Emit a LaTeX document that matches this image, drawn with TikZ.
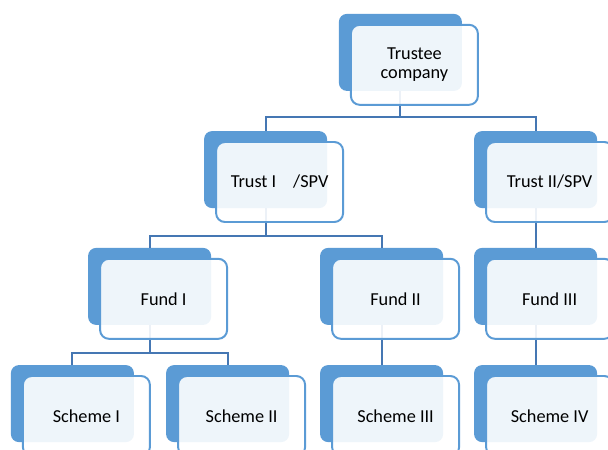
\documentclass[tikz,border=0pt]{standalone}
\usepackage{fontspec}
\setmainfont{Carlito}
\usetikzlibrary{positioning}

\definecolor{boxblue}{HTML}{5B9BD5}
\definecolor{linkblue}{HTML}{4577B3}

\begin{document}
\begin{tikzpicture}[
    node font=\fontsize{13}{13.5}\selectfont,
    back box/.style={rectangle, rounded corners=0.2cm, fill=boxblue, inner sep=0pt,
        minimum width=3.075cm, minimum height=1.925cm},
    front box/.style={rectangle, rounded corners=0.22cm, draw=boxblue, line width=1.4pt,
        fill=white, fill opacity=0.9, text opacity=1, text=black, align=center,
        inner sep=0pt, minimum width=3.175cm, minimum height=2cm,
        xshift=0.35cm, yshift=-0.31cm},
    link/.style={draw=linkblue, line width=1.5pt},
]

\clip (0,0) rectangle (15.2,-11.25);
\useasboundingbox (0,0) rectangle (15.2,-11.25);

% === Back panels ===
\node[back box] (trustee) at (10.01,-1.31) {};
\node[back box] (trust1)  at (6.64,-4.24) {};
\node[back box] (trust2)  at (13.39,-4.24) {};
\node[back box] (fund1)   at (3.74,-7.16) {};
\node[back box] (fund2)   at (9.54,-7.16) {};
\node[back box] (fund3)   at (13.39,-7.16) {};
\node[back box] (scheme1) at (1.81,-10.09) {};
\node[back box] (scheme2) at (5.69,-10.09) {};
\node[back box] (scheme3) at (9.54,-10.09) {};
\node[back box] (scheme4) at (13.39,-10.09) {};

% === Links ===
\draw[link] (trustee.south) -- ++(0,-0.65) -| (trust1.north);
\draw[link] (trustee.south) -- ++(0,-0.65) -| (trust2.north);
\draw[link] (trust1.south) -- ++(0,-0.7) -| (fund1.north);
\draw[link] (trust1.south) -- ++(0,-0.7) -| (fund2.north);
\draw[link] (trust2.south) -- (fund3.north);
\draw[link] (fund1.south) -- ++(0,-0.7) -| (scheme1.north);
\draw[link] (fund1.south) -- ++(0,-0.7) -| (scheme2.north);
\draw[link] (fund2.south) -- (scheme3.north);
\draw[link] (fund3.south) -- (scheme4.north);

% === Front panels with labels ===
\node[front box] (trustee text) at (trustee) {Trustee\\company};
\node[front box] (trust1 text)  at (trust1)  {Trust I\hspace{12pt}/SPV};
\node[front box] (trust2 text)  at (trust2)  {Trust II/SPV};
\node[front box] (fund1 text)   at (fund1)   {Fund I};
\node[front box] (fund2 text)   at (fund2)   {Fund II};
\node[front box] (fund3 text)   at (fund3)   {Fund III};
\node[front box] (scheme1 text) at (scheme1) {Scheme I};
\node[front box] (scheme2 text) at (scheme2) {Scheme II};
\node[front box] (scheme3 text) at (scheme3) {Scheme III};
\node[front box] (scheme4 text) at (scheme4) {Scheme IV};

\end{tikzpicture}
\end{document}
